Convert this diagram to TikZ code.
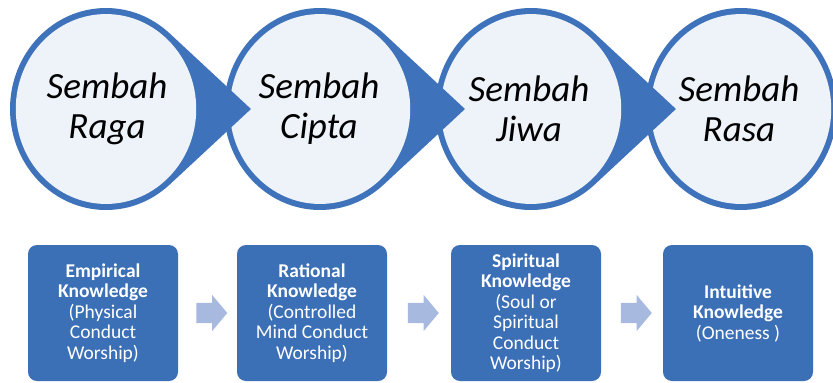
\documentclass[tikz,border=0pt]{standalone}
\usepackage{fontspec}
\setmainfont{Carlito}
\usetikzlibrary{shapes.arrows,calc}
\definecolor{ringblue}{RGB}{62,114,186}
\definecolor{circfill}{RGB}{238,243,250}
\definecolor{boxblue}{RGB}{59,111,182}
\definecolor{arrowblue}{RGB}{168,185,224}
\begin{document}
\begin{tikzpicture}[x=1pt,y=-1pt,line join=round,
	circtext/.style={align=center,font=\fontsize{37}{40}\selectfont\itshape,text=black},
	knowbox/.style={fill=boxblue,rounded corners=9pt,minimum width=150pt,minimum height=136pt,align=center,text=white,font=\fontsize{19.5}{20.5}\selectfont,inner sep=0pt},
	pana/.style={single arrow,fill=arrowblue,inner xsep=0pt,inner ysep=10pt,minimum width=36pt,minimum height=31pt,single arrow head extend=8pt,single arrow tip angle=100}]
	\def\rx{96} \def\ry{101} \def\cy{109} % radii and centre line of the circles
	\def\tip{1.51} \def\ang{48.5} % tip distance (in radii) and tangent angle
	\useasboundingbox (0,0) rectangle (833,383);
	% last circle, no tip
	\begin{scope}[shift={(741,\cy)},xscale=\rx,yscale=\ry]
		\fill[ringblue] (0,0) circle(1);
		\fill[circfill] (0,0) circle(0.94);
	\end{scope}
	% circles with tips, drawn right to left so each tip lies over the next circle
	\foreach \cx in {531,320,106}{
		\begin{scope}[shift={(\cx,\cy)},xscale=\rx,yscale=\ry]
			\fill[ringblue] (\ang:1) arc[start angle=\ang,end angle=360-\ang,radius=1]--(\tip,0)--cycle;
			\fill[circfill] (0,0) circle(0.94);
		\end{scope}
	}
	\node[circtext] (raga) at (107,\cy) {Sembah\\Raga};
	\node[circtext] (cipta) at (319,\cy) {Sembah\\Cipta};
	\node[circtext] (jiwa) at (529,\cy) {Sembah\\Jiwa};
	\node[circtext] (rasa) at (739,\cy) {Sembah\\Rasa};
	% knowledge boxes
	\node[knowbox] (empiris) at (103,313) {\textbf{Empirical}\\\textbf{Knowledge}\\(Physical\\Conduct\\Worship)};
	\node[knowbox] (rasional) at (312,313) {\textbf{Rational}\\\textbf{Knowledge}\\(Controlled\\Mind Conduct\\Worship)};
	\node[knowbox] (spiritual) at (526,313) {\textbf{Spiritual}\\\textbf{Knowledge}\\(Soul or\\Spiritual\\Conduct\\Worship)};
	\node[knowbox] (intuitif) at (738,313) {\textbf{Intuitive}\\\textbf{Knowledge}\\(Oneness\ )};
	\node[pana] (p1) at ($(empiris.east)!0.5!(rasional.west)$) {};
	\node[pana] (p2) at ($(rasional.east)!0.5!(spiritual.west)$) {};
	\node[pana] (p3) at ($(spiritual.east)!0.5!(intuitif.west)$) {};
\end{tikzpicture}
\end{document}
